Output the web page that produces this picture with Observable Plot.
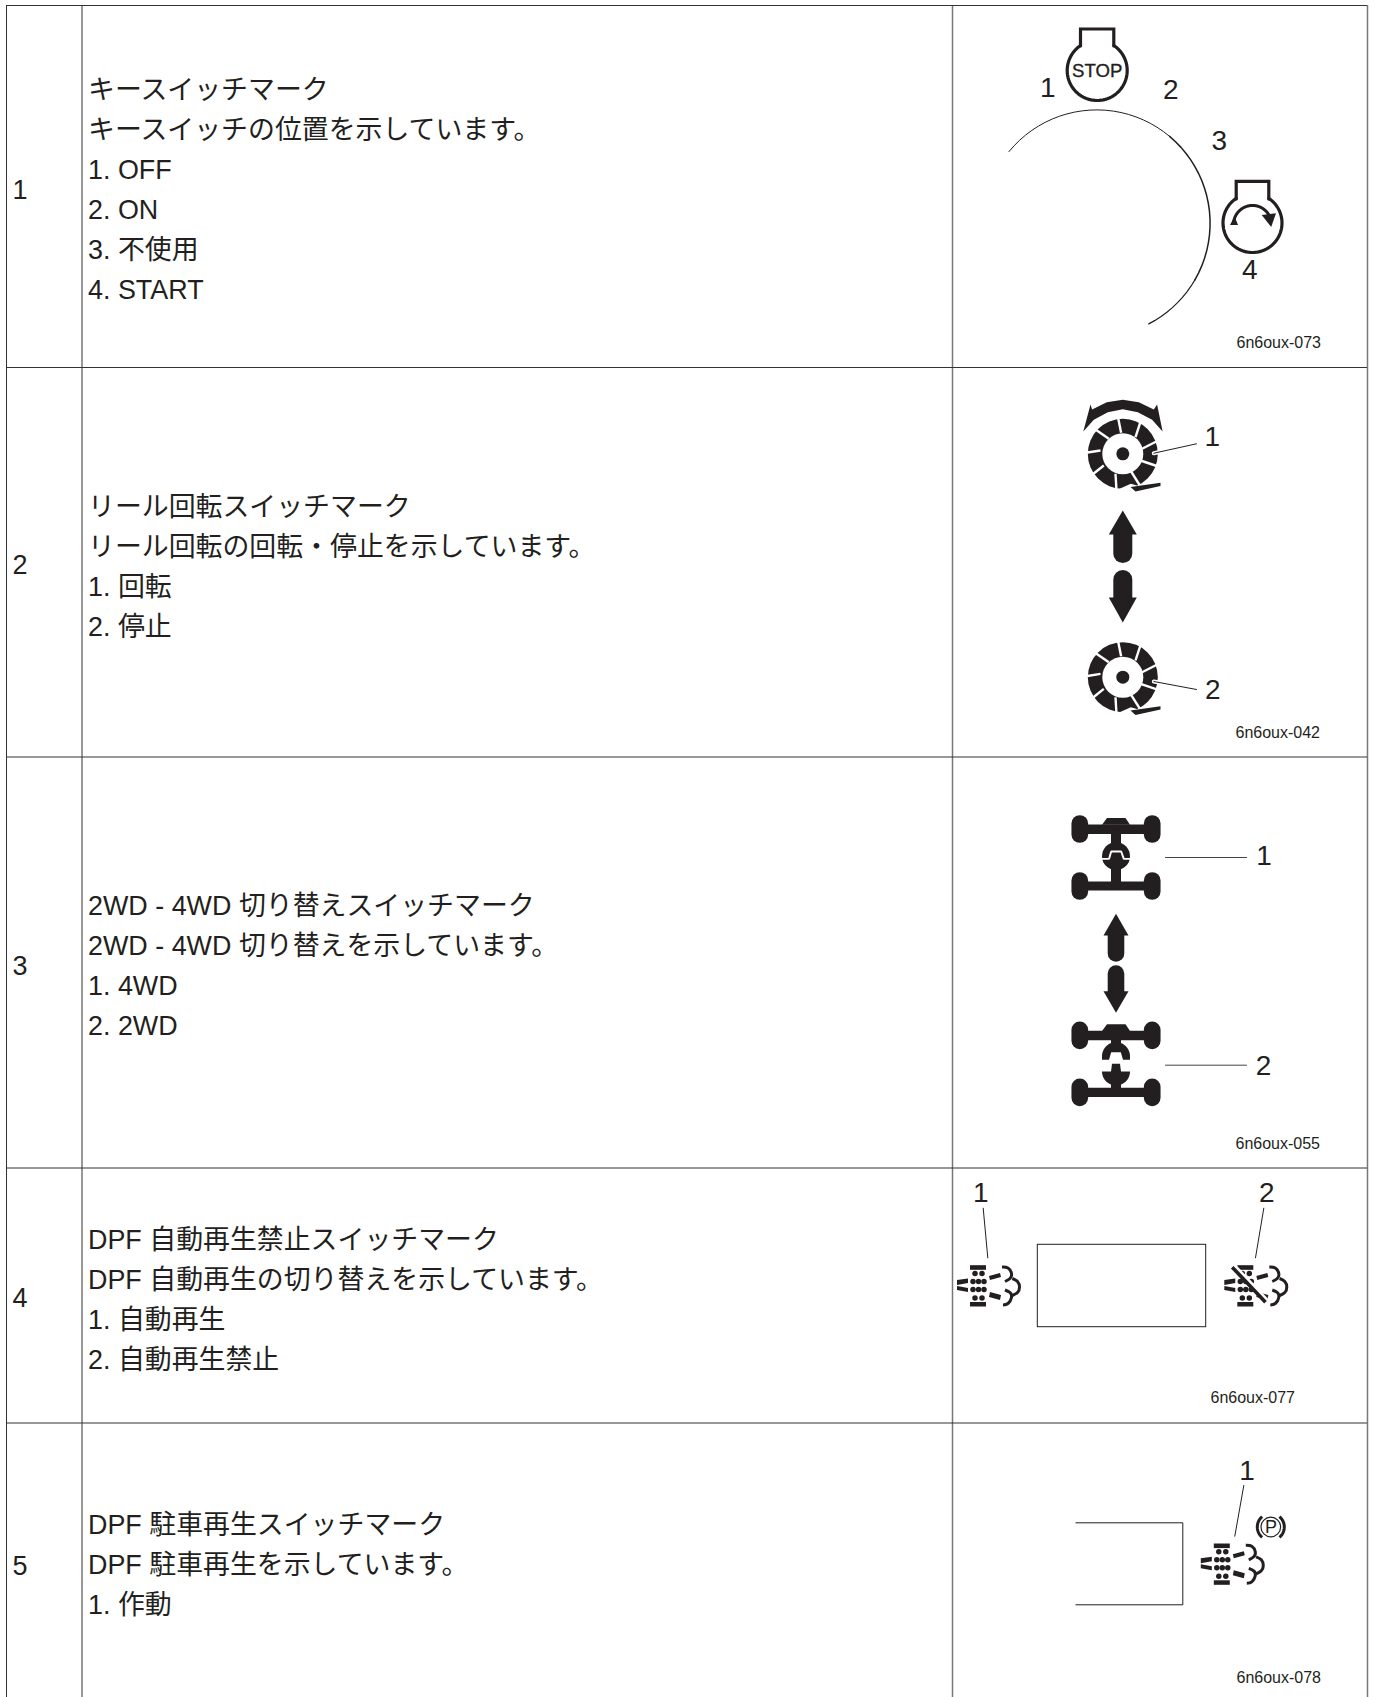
<!DOCTYPE html>
<html lang="ja">
<head>
<meta charset="utf-8">
<title>スイッチマーク</title>
<script src="https://cdn.jsdelivr.net/npm/d3@7"></script>
<script src="https://cdn.jsdelivr.net/npm/@observablehq/plot@0.6"></script>
<style>
html,body{margin:0;padding:0;background:#fff}
svg{display:block}
</style>
</head>
<body>
<div id="chart"></div>
<script>
// ---- table text ----
const rowNumbers = ["1", "2", "3", "4", "5"];
const descriptionLines = [
  "キースイッチマーク", "キースイッチの位置を示しています。", "1. OFF", "2. ON", "3. 不使用", "4. START",
  "リール回転スイッチマーク", "リール回転の回転・停止を示しています。", "1. 回転", "2. 停止",
  "2WD - 4WD 切り替えスイッチマーク", "2WD - 4WD 切り替えを示しています。", "1. 4WD", "2. 2WD",
  "DPF 自動再生禁止スイッチマーク", "DPF 自動再生の切り替えを示しています。", "1. 自動再生", "2. 自動再生禁止",
  "DPF 駐車再生スイッチマーク", "DPF 駐車再生を示しています。", "1. 作動"
];
const figureCodes = ["6n6oux-073", "6n6oux-042", "6n6oux-055", "6n6oux-077", "6n6oux-078"];
const calloutNumbers = ["1", "2", "3", "4", "1", "2", "1", "2", "1", "2", "1"];

// ---- table layout, in picture units ----
const columnEdges = [6, 81.5, 952, 1367];
const rowEdges = [5, 367, 756.5, 1167.5, 1422.5];
const rowNumberY = [190, 565, 966, 1298, 1566];
const descriptionY = [90, 130, 170, 210, 250, 290, 506.5, 546.5, 586.5, 626.5, 906, 946, 986, 1026, 1239.5, 1279.5, 1319.5, 1359.5, 1525, 1565, 1605];
const figureCodeX = [1236, 1235, 1235, 1210, 1236];
const figureCodeY = [342, 732, 1143, 1397, 1677];
const calloutX = [1047.3, 1170.2, 1218.7, 1249.3, 1211.7, 1212.3, 1263.5, 1263, 980.2, 1266.2, 1246.5];
const calloutY = [88, 90, 140.5, 270, 437, 690, 856, 1066, 1193, 1193, 1471];

// ---- helpers ----
const INK = "#231f20";
const at = (ox, oy, pts) => pts.map(([a, b]) => [ox + a, oy + b]);
const arc = (cx, cy, r, a0, a1) => {
  const pts = [];
  const n = Math.max(2, Math.ceil(Math.abs(a1 - a0) / 4));
  for (let i = 0; i <= n; i++) {
    const t = (a0 + (a1 - a0) * i / n) * Math.PI / 180;
    pts.push([cx + r * Math.sin(t), cy - r * Math.cos(t)]);
  }
  return pts;
};
const X = d => d[0], Y = d => d[1];
const poly = (pts, fill = INK) => Plot.line(pts, {x: X, y: Y, fill, stroke: "none", curve: "linear-closed"});
const path = (pts, strokeWidth = 1, stroke = INK, extra = {}) =>
  Plot.line(pts, {x: X, y: Y, stroke, strokeWidth, fill: "none", ...extra});
const disc = (pts, r, fill = INK) => Plot.dot(pts, {x: X, y: Y, r, fill, stroke: "none"});
const ring = (pts, r, strokeWidth) => Plot.dot(pts, {x: X, y: Y, r, fill: "none", stroke: INK, strokeWidth});

// ---- key switch ----
const keySwitch = [
  path(arc(1096.3, 222.7, 113.3, -50.8, 40), 1),
  path(arc(1096.3, 222.7, 113.3, 40, 120), 1.5),
  path(arc(1096.3, 222.7, 113.3, 120, 152.7), 1.2),
  path(arc(1096.7, 70, 30, 33.8, 326.2), 3.2),
  path([[1080, 45.5], [1080, 28.5], [1113.3, 28.5], [1113.3, 45.5]], 3.2, INK, {strokeLinejoin: "miter", strokeMiterlimit: 4}),
  Plot.text(["STOP"], {x: () => 1096.7, y: () => 71, text: d => d, fontSize: 18.6, fill: INK, stroke: INK, strokeWidth: 0.35}),
  path(arc(1252, 222.5, 29.5, 33.5, 326.5), 3.2),
  path([[1235.7, 198.5], [1235.7, 180.8], [1268.3, 180.8], [1268.3, 198.5]], 3.2, INK, {strokeLinejoin: "miter", strokeMiterlimit: 4}),
  path(arc(1252, 224, 19, -86, 66), 3),
  poly([[1261.2, 214.5], [1275.5, 212.8], [1270.7, 226.5]]),
  poly([[1229.5, 224.5], [1237.5, 224.5], [1234, 215.7]])
];

// ---- reel ----
const reelGaps = [
  [[-4.7, -36], [-1.7, -21]], [[18, -33], [12.7, -16.7]], [[34, -12.5], [19.3, -5]],
  [[17.7, 6.7], [34, 12.2]], [[7.7, 16.7], [17, 31.5]], [[-7.3, 20], [-6.3, 37]],
  [[-19, 11.7], [-30, 20.5]], [[-22.3, -3.3], [-37, -1]], [[-14, -15], [-27, -24]]
];
const reel = (cx, cy) => [
  disc([[cx, cy]], 35),
  disc([[cx, cy]], 20.5, "#fff"),
  disc([[cx, cy]], 6.5),
  ...reelGaps.map(g => path(at(cx, cy, g), 2.4, "#fff", {strokeLinecap: "butt"})),
  poly(at(cx, cy, [[-5.5, 36], [8, 30], [15, 32], [18, 40], [-5.5, 40]]), "#fff"),
  poly(at(cx, cy, [[7.7, 33.3], [37.7, 29], [37.7, 32.3], [12.7, 37.7]]))
];
const reelCrescent = at(1122.3, 453.3, [
  [-39.5, -22.3], [-32.3, -49.3], [-30.7, -44.3], [-16, -51.5], [0, -54], [16, -51.5], [31, -44.3], [34.3, -49.3],
  [39.8, -22.3], [29.3, -34], [15, -41.5], [0, -44.5], [-15, -41.5], [-29, -34]
]);
const doubleArrow = (cx, tipUp, baseUp, endUp, startDown, baseDown, tipDown, halfHead, width) => [
  poly([[cx, tipUp], [cx + halfHead, baseUp], [cx - halfHead, baseUp]]),
  path([[cx, baseUp], [cx, endUp]], width, INK),
  path([[cx, startDown], [cx, baseDown]], width, INK),
  poly([[cx, tipDown], [cx + halfHead, baseDown], [cx - halfHead, baseDown]])
];
const reelSwitch = [
  ...reel(1122.3, 453.3),
  poly(reelCrescent),
  path([[1153.3, 452.7], [1160, 451.2]], 4, "#fff"),
  path([[1153.3, 452.7], [1196, 443.3]], 1),
  ...doubleArrow(1122.3, 510, 534, 553, 579, 597, 622, 14, 19),
  ...reel(1122.3, 676.7),
  path([[1153.3, 681], [1160, 682.2]], 4, "#fff"),
  path([[1153.3, 681], [1196, 689]], 1)
];

// ---- axles ----
const axleFrame = (cx, top) => [
  ...[-36.2, 36.2].flatMap(dx => [
    path(at(cx, top, [[dx, 8.3], [dx, 19.3]]), 16.7),
    path(at(cx, top, [[dx, 65.3], [dx, 76.3]]), 16.7)
  ]),
  path(at(cx, top, [[-36, 14], [36, 14]]), 9.4, INK, {strokeLinecap: "butt"}),
  path(at(cx, top, [[-36, 70.8], [36, 70.8]]), 9.2, INK, {strokeLinecap: "butt"}),
  poly(at(cx, top, [[-14, 9.5], [-9, 2.7], [9.5, 2.7], [14, 9.5]])),
  path(at(cx, top, [[0, 14], [0, 30]]), 10, INK, {strokeLinecap: "butt"})
];
const axle4WD = (cx, top) => [
  ...axleFrame(cx, top),
  path(at(cx, top, [[0, 52], [0, 70]]), 10, INK, {strokeLinecap: "butt"}),
  disc(at(cx, top, [[0, 41]]), 14),
  path(at(cx, top, [[-15, 43.7], [-7, 43.7], [-4.8, 36.3], [5.2, 36.3], [7.8, 43.7], [15, 43.7]]), 1.9, "#fff", {strokeLinecap: "butt", strokeLinejoin: "miter"})
];
const axle2WD = (cx, top) => [
  ...axleFrame(cx, top),
  poly(at(cx, top, [...arc(0, 34.7, 14, -90, 90), [14, 38.3], [7, 38.3], [4.8, 30.7], [-4.8, 30.7], [-7, 38.3], [-14, 38.3]])),
  poly(at(cx, top, [[-4, 42.3], [4, 42.3], [5, 50], ...arc(0, 50, 14, 90, 270), [-5, 50]])),
  path(at(cx, top, [[0, 50], [0, 70]]), 10, INK, {strokeLinecap: "butt"})
];
const driveSwitch = [
  ...axle4WD(1115.5, 814.7),
  path([[1165, 857], [1246, 857]], 1, "#444"),
  ...doubleArrow(1115.5, 913.3, 935, 953, 973, 990.7, 1012.3, 12.5, 16.6),
  ...axle2WD(1115.5, 1021),
  path([[1165, 1064.7], [1246, 1064.7]], 1, "#444")
];

// ---- DPF icon ----
const dpfDots = [[5, 8], [12, 8], [3, 16], [8.5, 16], [14, 16], [3, 24], [8.5, 24], [14, 24], [5, 32.5], [12, 32.5]];
const dpfPolys = [
  [[0, -0.3], [16, -0.3], [16, 4.3], [0, 4.3]],
  [[0, 36.5], [16, 36.5], [16, 41], [0, 41]],
  [[-13, 14.5], [-2, 13], [-2, 17.5], [-13, 19.5]],
  [[-13, 20.5], [-2, 22.5], [-2, 26.5], [-13, 24.5]],
  [[19, 10.5], [30, 7.5], [31, 11.5], [20, 14.5]],
  [[20, 26.5], [31, 29.5], [30, 34.5], [19, 31.5]]
];
const dpfCurls = [
  [[32, 1.5], [38, 2.5], [41.5, 8], [40, 13], [35, 16]],
  [[42.3, 13], [47.5, 16], [49.5, 21.7], [47.5, 27], [42.3, 30]],
  [[33, 39.5], [38, 38], [41.5, 32], [40, 27], [35, 24.5]]
];
const dpfIcon = (ox, oy) => [
  ...dpfPolys.map(p => poly(at(ox, oy, p))),
  disc(at(ox, oy, dpfDots), 2.75),
  ...dpfCurls.map(c => path(at(ox, oy, c), 3, INK, {curve: "natural", strokeLinecap: "butt"}))
];
const dpfRow = [
  ...dpfIcon(969.5, 1265),
  ...dpfIcon(1236.8, 1265),
  path([[1233, 1265.7], [1266, 1300.7]], 5.5, "#fff", {strokeLinecap: "butt"}),
  path([[1231.7, 1266.7], [1265, 1301.7]], 3.6, INK, {strokeLinecap: "butt"}),
  Plot.rect([[1037.3, 1326.7, 1244.3, 1205.7]], {x1: X, y2: Y, y1: d => d[2], x2: d => d[3], fill: "none", stroke: INK, strokeWidth: 1}),
  path([[982.7, 1207.7], [987.3, 1257.3]], 1),
  path([[1263.3, 1207.7], [1255, 1257.3]], 1)
];
const parkRow = [
  ...dpfIcon(1213.3, 1543.3),
  path([[1075, 1522.3], [1182.3, 1522.3], [1182.3, 1604.3], [1075, 1604.3]], 1, INK, {strokeLinejoin: "miter", strokeLinecap: "butt", strokeMiterlimit: 4}),
  path([[1243.3, 1485], [1234.3, 1535.7]], 1),
  ring([[1270.3, 1526.5]], 9.8, 1.2),
  path(arc(1270.3, 1526.5, 13.5, 220, 320), 3, INK, {strokeLinecap: "butt"}),
  path(arc(1270.3, 1526.5, 13.5, 40, 140), 3, INK, {strokeLinecap: "butt"}),
  Plot.text(["P"], {x: () => 1270.6, y: () => 1526.8, text: d => d, fontSize: 18, fill: INK})
];

const chart = Plot.plot({
  width: 1375,
  height: 1697,
  margin: 0,
  x: {axis: null, domain: [0, 1375], range: [0, 1375]},
  y: {axis: null, domain: [0, 1697], range: [0, 1697]},
  style: {background: "#fff", fontFamily: "'Liberation Sans','Noto Sans CJK JP',sans-serif", color: INK},
  marks: [
    Plot.ruleX(columnEdges, {y1: 5, y2: 1697, stroke: (d, i) => i < 2 ? "#333" : "#777", strokeWidth: (d, i) => i < 2 ? 1 : 1.5}),
    Plot.ruleY(rowEdges, {x1: 6, x2: 1367, stroke: "#333", strokeWidth: 1}),
    Plot.text(rowNumbers, {x: () => 12, y: (d, i) => rowNumberY[i], text: d => d, textAnchor: "start", fontSize: 27, fill: INK}),
    Plot.text(descriptionLines, {x: () => 87.5, y: (d, i) => descriptionY[i], text: d => d, textAnchor: "start", fontSize: 26.9, fill: INK}),
    Plot.text(figureCodes, {x: (d, i) => figureCodeX[i], y: (d, i) => figureCodeY[i], text: d => d, textAnchor: "start", fontSize: 16, fill: INK}),
    Plot.text(calloutNumbers, {x: (d, i) => calloutX[i], y: (d, i) => calloutY[i], text: d => d, fontSize: 28, fill: INK}),
    ...keySwitch,
    ...reelSwitch,
    ...driveSwitch,
    ...dpfRow,
    ...parkRow
  ]
});
document.getElementById("chart").appendChild(chart);
</script>
</body>
</html>
